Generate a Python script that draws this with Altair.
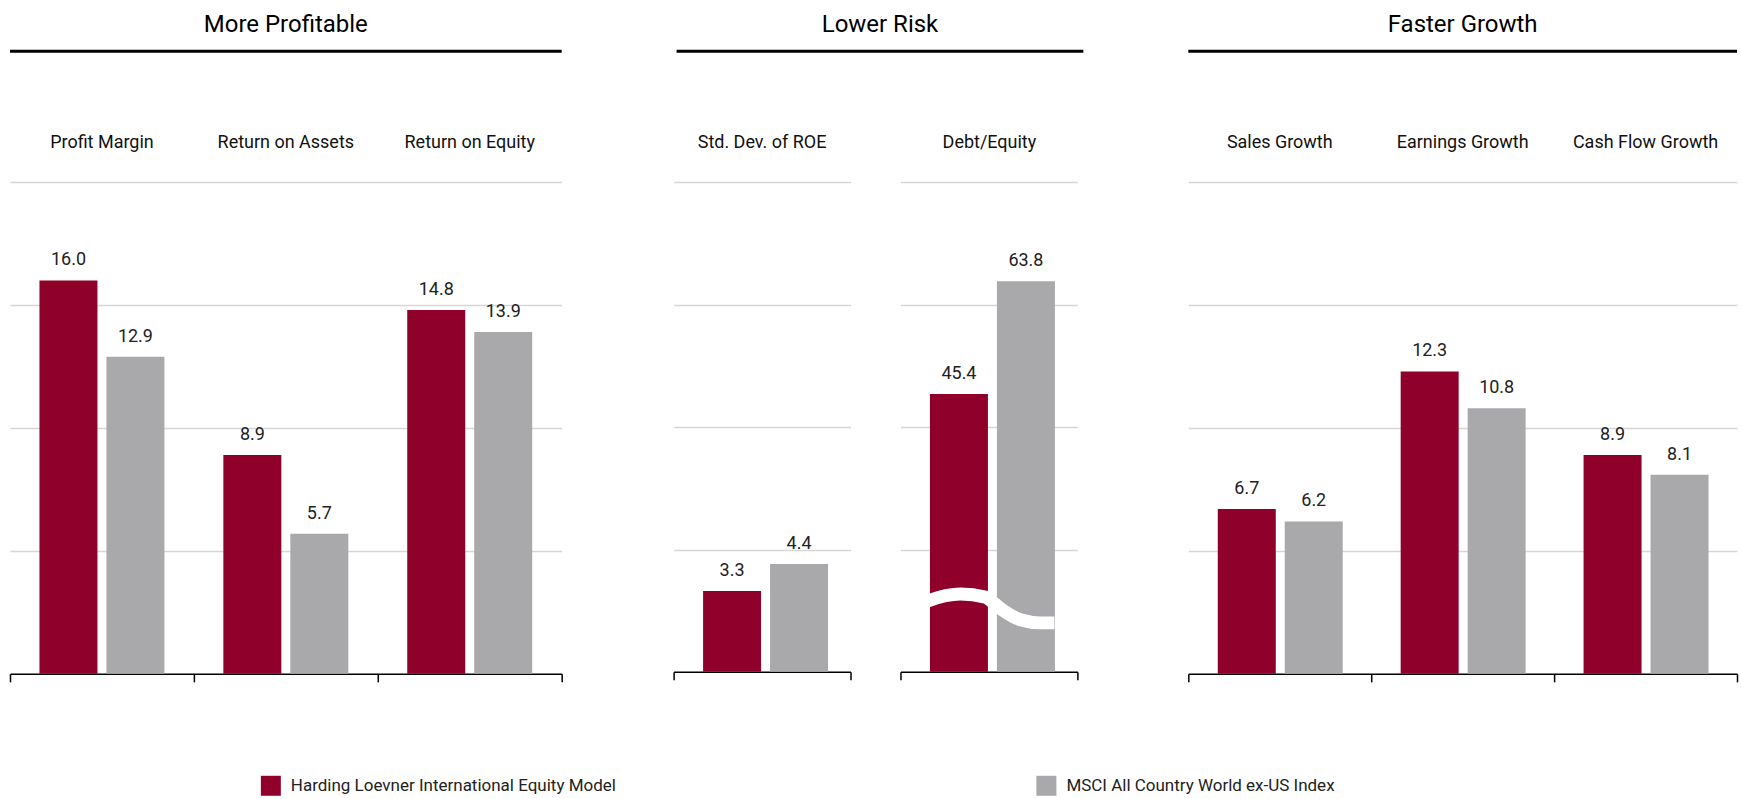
import altair as alt
import pandas as pd

FONT = "Roboto, Liberation Sans, sans-serif"

SERIES = ["Harding Loevner International Equity Model", "MSCI All Country World ex-US Index"]
COLORS = ["#8f002b", "#a9a9ab"]

group_titles = ["More Profitable", "Lower Risk", "Faster Growth"]

prof_cats = ["Profit Margin", "Return on Assets", "Return on Equity"]
prof_hl = [16.0, 8.9, 14.8]
prof_msci = [12.9, 5.7, 13.9]

sd_cats = ["Std. Dev. of ROE"]
sd_hl = [3.3]
sd_msci = [4.4]

de_cats = ["Debt/Equity"]
de_hl = [45.4]
de_msci = [63.8]

growth_cats = ["Sales Growth", "Earnings Growth", "Cash Flow Growth"]
growth_hl = [6.7, 12.3, 8.9]
growth_msci = [6.2, 10.8, 8.1]

ticks_20 = [5, 10, 15, 20]
ticks_80 = [20, 40, 60, 80]

# axis-break decoration on the Debt/Equity bars (x: share of panel width, y: value)
break_x = [0.12, 0.156, 0.339, 0.48, 0.52, 0.582, 0.678, 0.79, 0.87]
break_y = [11.2, 11.6, 12.7, 12.2, 11.4, 10.0, 8.5, 8.0, 8.0]

LEGEND = alt.Legend(
    orient="none", legendX=251, legendY=594, direction="horizontal", columns=2,
    columnPadding=420, symbolType="square", symbolSize=400, symbolStrokeWidth=0,
    labelFontSize=17, labelFont=FONT, labelColor="#222", labelOffset=10,
    title=None, labelLimit=0,
)


def yaxis(ticks):
    return alt.Axis(values=ticks, grid=True, labels=False, ticks=False,
                    domain=False, title=None, gridColor="#d6d6d6", gridWidth=1.5)


def panel(cats, hl, msci, width, height, ymax, ticks, title=None, title_x=None,
          rule_x=None, extra=None):
    df = pd.DataFrame({
        "cat": cats * 2,
        "series": [SERIES[0]] * len(cats) + [SERIES[1]] * len(cats),
        "value": hl + msci,
    })
    base = alt.Chart(df)
    xscale = alt.Scale(paddingInner=0, paddingOuter=0)
    xoff = alt.XOffset("series:N", sort=SERIES,
                       scale=alt.Scale(paddingInner=0.134, paddingOuter=0.44))
    ya = yaxis(ticks)
    bars = base.mark_bar().encode(
        x=alt.X("cat:N", sort=cats, scale=xscale,
                axis=alt.Axis(orient="bottom", labels=False, title=None,
                              domainColor="black", domainWidth=1.5,
                              tickColor="black", tickWidth=1.5, tickSize=8,
                              tickBand="extent", grid=False)),
        xOffset=xoff,
        y=alt.Y("value:Q", scale=alt.Scale(domain=[0, ymax], nice=False), axis=ya),
        color=alt.Color("series:N", sort=SERIES,
                        scale=alt.Scale(domain=SERIES, range=COLORS), legend=LEGEND),
    )
    labels = base.mark_text(baseline="alphabetic", dy=-15, fontSize=18, font=FONT,
                            color="#222").encode(
        x=alt.X("cat:N", sort=cats, scale=xscale, axis=None),
        xOffset=xoff,
        y=alt.Y("value:Q", axis=ya),
        text=alt.Text("value:Q", format=".1f"),
    )
    top = base.mark_point(opacity=0).encode(
        x=alt.X("cat:N", sort=cats, scale=xscale,
                axis=alt.Axis(orient="top", labels=True, ticks=False, tickSize=0,
                              domain=False, title=None, labelFontSize=18,
                              labelFont=FONT, labelColor="#111", labelAngle=0,
                              labelBaseline="alphabetic", labelPadding=35,
                              labelLimit=0, grid=False)),
    )
    layers = [bars]
    if extra is not None:
        layers.append(extra.encode(y=alt.Y("by:Q", axis=ya)))
    layers += [labels, top]
    if title is not None:
        tdf = pd.DataFrame({"t": [title]})
        ttl = alt.Chart(tdf).mark_text(fontSize=24, font=FONT, color="black",
                                      baseline="alphabetic", align="center").encode(
            x=alt.value(title_x), y=alt.value(-150), text="t:N")
        rule = alt.Chart(tdf).mark_rule(color="black", strokeWidth=3).encode(
            x=alt.value(rule_x[0]), x2=alt.value(rule_x[1]), y=alt.value(-131))
        layers += [rule, ttl]
    ch = alt.layer(*layers).properties(width=width, height=height)
    ch = ch.resolve_axis(x="independent")
    if extra is not None:
        ch = ch.resolve_scale(x="independent")
    return ch


def spacer(width):
    return alt.Chart(pd.DataFrame({"s": [0]})).mark_point(opacity=0).encode(
        x=alt.X("s:Q", axis=None), y=alt.Y("s:Q", axis=None)
    ).properties(width=width, height=10)


brk = alt.Chart(pd.DataFrame({"bx": break_x, "by": break_y})).mark_line(
    color="white", strokeWidth=13, interpolate="monotone", strokeCap="butt").encode(
    x=alt.X("bx:Q", scale=alt.Scale(domain=[0, 1], nice=False, zero=False), axis=None),
)

p1 = panel(prof_cats, prof_hl, prof_msci, 552, 492, 20, ticks_20,
           title=group_titles[0], title_x=276, rule_x=(0, 552))
p2a = panel(sd_cats, sd_hl, sd_msci, 177, 490, 20, ticks_20,
            title=group_titles[1], title_x=206.5, rule_x=(3, 410))
p2b = panel(de_cats, de_hl, de_msci, 177, 490, 80, ticks_80, extra=brk)
p3 = panel(growth_cats, growth_hl, growth_msci, 549, 492, 20, ticks_20,
           title=group_titles[2], title_x=274.5, rule_x=(0, 549))

chart = alt.hconcat(p1, spacer(12), p2a, p2b, spacer(11), p3, spacing=50,
                    bounds="flush")

chart = chart.configure(font=FONT).configure_view(
    stroke="transparent", strokeWidth=0
).properties(
    padding={"left": 8, "top": 13, "right": 2, "bottom": 2}
)

chart.save("out.html", embed_options={"renderer": "svg", "actions": False})
